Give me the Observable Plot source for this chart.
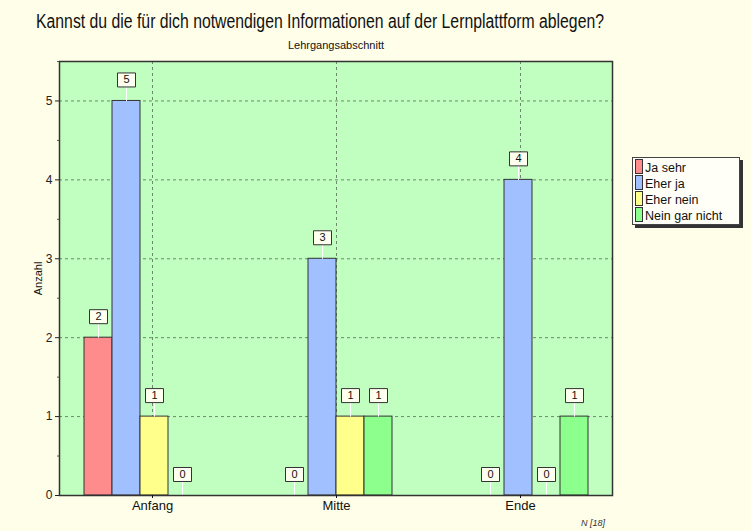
<!DOCTYPE html>
<html>
<head>
<meta charset="utf-8">
<script src="https://cdn.jsdelivr.net/npm/d3@7"></script>
<script src="https://cdn.jsdelivr.net/npm/@observablehq/plot@0.6"></script>
<style>
  html, body { margin: 0; padding: 0; background: #fffee9; }
  #wrap { position: relative; width: 751px; height: 531px; overflow: hidden; background: #fffee9; font-family: "Liberation Sans", Arial, sans-serif; }
  #wrap svg { position: absolute; left: 0; top: 0; }
  #title { position: absolute; left: 36px; top: 10px; font-size: 19.5px; color: #111; white-space: nowrap; transform-origin: 0 0; display: inline-block; }
  #subtitle { position: absolute; left: 0; width: 672px; text-align: center; top: 39px; font-size: 11px; color: #111; }
  #legend { position: absolute; left: 632px; top: 157px; width: 106px; height: 66px; background: #fffff8; border: 1px solid #444; box-shadow: 3px 3px 0 #333; font-size: 12.5px; z-index: 5; }
  .li { position: absolute; left: 2px; height: 16px; line-height: 16px; white-space: nowrap; color: #111; }
  .sw { display: inline-block; width: 6px; height: 13px; border: 1px solid #333; vertical-align: -2px; margin-right: 2px; }
  #n { position: absolute; left: 581px; top: 518px; font-size: 9px; font-style: italic; color: #333; }
</style>
</head>
<body>
<div id="wrap">
  <div id="title"><span id="tspan">Kannst du die für dich notwendigen Informationen auf der Lernplattform ablegen?</span></div>
  <div id="subtitle">Lehrgangsabschnitt</div>
  <div id="legend"></div>
  <div id="n">N [18]</div>
</div>
<script>
const groups = ["Anfang", "Mitte", "Ende"];
const series = ["Ja sehr", "Eher ja", "Eher nein", "Nein gar nicht"];
const colors = ["#ff8c8c", "#a0c0ff", "#ffff8c", "#8cff8c"];
const valuesJaSehr = [2, 0, 0];
const valuesEherJa = [5, 3, 4];
const valuesEherNein = [1, 1, 0];
const valuesNeinGarNicht = [0, 1, 1];
const yTicks = [0, 1, 2, 3, 4, 5];
const yMinorTicks = [0.5, 1.5, 2.5, 3.5, 4.5, 5.5];

const seriesValues = [valuesJaSehr, valuesEherJa, valuesEherNein, valuesNeinGarNicht];
const data = [];
groups.forEach((g, gi) => series.forEach((s, si) => data.push({group: g, series: s, value: seriesValues[si][gi]})));

const common = {
  width: 751,
  height: 531,
  marginLeft: 59,
  marginRight: 139,
  marginTop: 61,
  marginBottom: 36,
  style: {background: "transparent", fontFamily: "Liberation Sans, Arial, sans-serif", overflow: "visible"}
};
const yScale = {domain: [0, 5.5], label: null};
const bandX = {domain: groups, paddingInner: 0.431, paddingOuter: 0.122, label: null};
const gridStyle = {stroke: "#6a8a6a", strokeOpacity: 1, strokeDasharray: "3,3"};

// layer 1: plot area background and grid
const back = Plot.plot({
  ...common,
  x: {...bandX, axis: null},
  y: {...yScale, axis: null},
  marks: [
    Plot.frame({fill: "#c0ffc0", stroke: null}),
    Plot.gridY(yTicks.slice(1), gridStyle),
    Plot.gridX(groups, gridStyle)
  ]
});

// layer 2: grouped bars with value labels
const boxSymbol = {draw(ctx) { ctx.rect(-9, -28, 18, 14); }};
const leaderSymbol = {draw(ctx) { ctx.moveTo(0, 0); ctx.lineTo(0, -14); }};
const bars = Plot.plot({
  ...common,
  fx: {...bandX, axis: null},
  x: {domain: series, padding: 0, axis: null},
  y: {...yScale, axis: null},
  color: {domain: series, range: colors},
  marks: [
    Plot.barY(data, {fx: "group", x: "series", y: "value", fill: "series", stroke: "#333", strokeWidth: 1}),
    Plot.dot(data, {fx: "group", x: "series", y: "value", symbol: leaderSymbol, stroke: "white", strokeWidth: 1, fill: "none"}),
    Plot.dot(data, {fx: "group", x: "series", y: "value", symbol: boxSymbol, fill: "#fffff0", stroke: "#333", strokeWidth: 1}),
    Plot.text(data, {fx: "group", x: "series", y: "value", text: d => String(d.value), dy: -21, fontSize: 11, fill: "#111"})
  ]
});

// layer 3: frame and axes
const front = Plot.plot({
  ...common,
  x: {...bandX},
  y: {...yScale},
  marks: [
    Plot.frame({stroke: "#333", strokeWidth: 1.5}),
    Plot.axisY(yTicks, {tickSize: 4, tickPadding: 3, fontSize: 12, color: "#222", label: null, tickFormat: d => String(d)}),
    Plot.axisY(yMinorTicks, {tickSize: 2, label: null, tickFormat: () => "", stroke: "#555"}),
    Plot.axisX(groups, {tickSize: 3, tickPadding: 2, fontSize: 13, color: "#111", label: null}),
    Plot.text(["Anzahl"], {frameAnchor: "left", textAnchor: "middle", dx: -21, rotate: -90, fontSize: 11, fill: "#111"})
  ]
});

const wrap = document.getElementById("wrap");
wrap.insertBefore(front, wrap.firstChild);
wrap.insertBefore(bars, wrap.firstChild);
wrap.insertBefore(back, wrap.firstChild);

const legend = document.getElementById("legend");
series.forEach((s, i) => {
  const d = document.createElement("div");
  d.className = "li";
  d.style.top = (1 + i * 16) + "px";
  d.innerHTML = `<span class="sw" style="background:${colors[i]}"></span>${s}`;
  legend.appendChild(d);
});

const t = document.getElementById("title");
const w = document.getElementById("tspan").getBoundingClientRect().width;
t.style.transform = `scaleX(${568 / w})`;
</script>
</body>
</html>
